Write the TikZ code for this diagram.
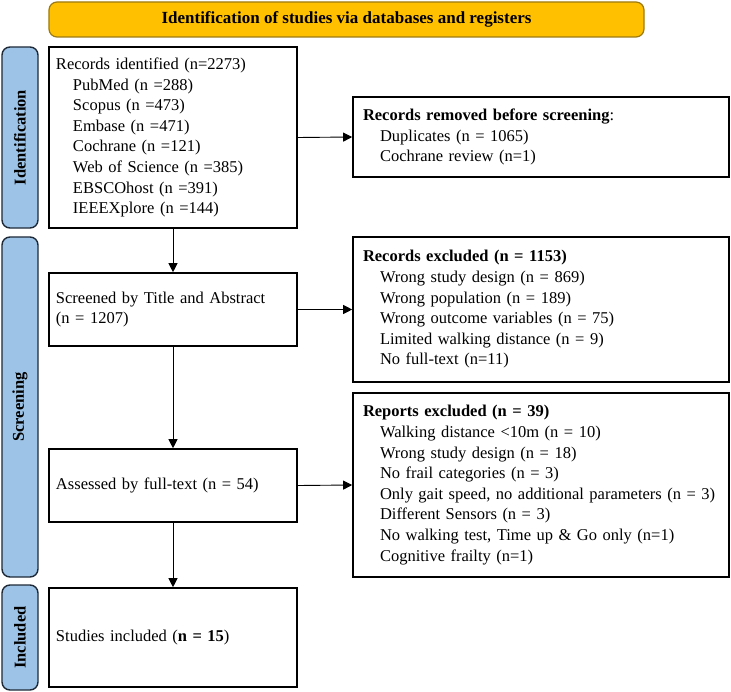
\documentclass[tikz,border=0pt]{standalone}
\usepackage{fontspec}
\setmainfont{Liberation Serif}
\usetikzlibrary{arrows.meta}
\definecolor{bannerfill}{HTML}{FFC000}
\definecolor{bannerdraw}{HTML}{9C7A10}
\definecolor{barfill}{HTML}{9DC3E6}
\definecolor{bardraw}{HTML}{1E2A38}
\tikzset{
  mainfont/.style={font=\fontsize{16.5bp}{20.6bp}\selectfont},
  leftbox/.style={draw, line width=1.6bp, mainfont, align=left, inner xsep=7bp, inner ysep=0pt,
    text width=234bp, minimum width=248bp},
  rightbox/.style={draw, line width=1.6bp, mainfont, align=left, inner xsep=10bp, inner ysep=0pt,
    text width=356bp, minimum width=376bp},
  sidebar/.style={draw=bardraw, fill=barfill, line width=1.4bp, rounded corners=8bp, rotate=90,
    minimum height=36bp, inner sep=0pt, font=\fontsize{16.5bp}{18bp}\selectfont\bfseries},
  banner/.style={draw=bannerdraw, fill=bannerfill, line width=1.2bp, rounded corners=8bp,
    minimum width=595bp, minimum height=35bp, inner sep=0pt, font=\fontsize{17bp}{19bp}\selectfont\bfseries},
  arr/.style={-{Triangle[length=9bp,width=9bp]}, line width=0.9bp}
}
\newcommand{\ind}{\hspace*{17bp}}
\begin{document}
\begin{tikzpicture}[x=1bp,y=-1bp]
\useasboundingbox (0,0) rectangle (731,692);
\node[banner] (banner) at (346.5,19.5) {Identification of studies via databases and registers};
\node[sidebar, minimum width=181bp] (idbar) at (20,137.5) {Identification};
\node[sidebar, minimum width=340bp] (scbar) at (20,407) {Screening};
\node[sidebar, minimum width=105bp] (inbar) at (20,637.5) {Included};

\node[leftbox, minimum height=181bp] (ident) at (173,137.5) {Records identified (n=2273)\\
\ind PubMed (n =288)\\
\ind Scopus (n =473)\\
\ind Embase (n =471)\\
\ind Cochrane (n =121)\\
\ind Web of Science (n =385)\\
\ind EBSCOhost (n =391)\\
\ind IEEEXplore (n =144)};

\node[rightbox, minimum height=80bp] (removed) at (541,137) {\textbf{Records removed before screening}:\\
\ind Duplicates (n = 1065)\\
\ind Cochrane review (n=1)};

\node[leftbox, minimum height=73bp] (screened) at (173,309.5) {Screened by Title and Abstract\\(n = 1207)};

\node[rightbox, minimum height=145bp] (excluded) at (541,309.5) {\textbf{Records excluded (n = 1153)}\\
\ind Wrong study design (n = 869)\\
\ind Wrong population (n = 189)\\
\ind Wrong outcome variables (n = 75)\\
\ind Limited walking distance (n = 9)\\
\ind No full-text (n=11)};

\node[leftbox, minimum height=73bp] (assessed) at (173,485.5) {Assessed by full-text (n = 54)};

\node[rightbox, minimum height=184bp] (reports) at (541,485) {\textbf{Reports excluded (n = 39)}\\
\ind Walking distance <10m (n = 10)\\
\ind Wrong study design (n = 18)\\
\ind No frail categories (n = 3)\\
\ind Only gait speed, no additional parameters (n = 3)\\
\ind Different Sensors (n = 3)\\
\ind No walking test, Time up \& Go only (n=1)\\
\ind Cognitive frailty (n=1)};

\node[leftbox, minimum height=99bp] (included) at (173,637.5) {Studies included (\textbf{n = 15})};

\draw[arr] (ident.south) -- (screened.north);
\draw[arr] (screened.south) -- (assessed.north);
\draw[arr] (assessed.south) -- (included.north);
\draw[arr] (ident.east) -- (removed.west);
\draw[arr] (screened.east) -- (excluded.west);
\draw[arr] (assessed.east) -- (reports.west);
\end{tikzpicture}
\end{document}
